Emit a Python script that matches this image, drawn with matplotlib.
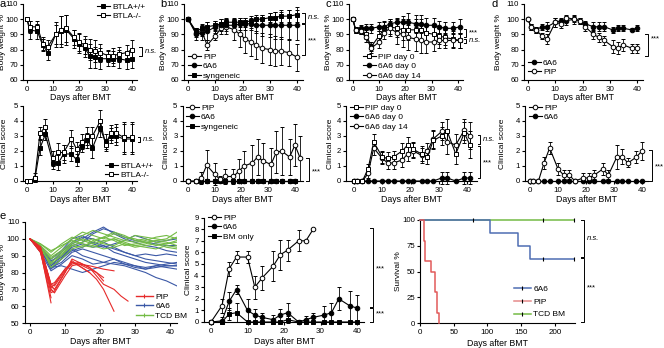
import numpy as np
import matplotlib
matplotlib.use("Agg")
import matplotlib.pyplot as plt
from matplotlib.lines import Line2D
from matplotlib.transforms import blended_transform_factory

plt.rcParams['font.family'] = ['Liberation Sans', 'DejaVu Sans']
plt.rcParams['font.size'] = 6
plt.rcParams['axes.linewidth'] = 0.8
plt.rcParams['xtick.major.width'] = 0.8
plt.rcParams['ytick.major.width'] = 0.8
plt.rcParams['xtick.major.size'] = 2.5
plt.rcParams['ytick.major.size'] = 2.5
plt.rcParams['xtick.major.pad'] = 1.5
plt.rcParams['ytick.major.pad'] = 1.2
plt.rcParams['xtick.labelsize'] = 5.8
plt.rcParams['ytick.labelsize'] = 5.6

W, H = 664, 348
fig = plt.figure(figsize=(W / 100, H / 100), dpi=100)

# ---------------- DATA ----------------
# Panel a
a_days = [0, 1, 4, 6, 8, 11, 13, 15, 18, 20, 22, 24, 26, 28, 31, 33, 35, 38, 40]
a_wt_wt = [100, 93, 92, 83, 78, 90, 92, 93, 87, 84, 81, 76, 75, 74, 74, 74, 74, 73, 74]
a_wt_wt_err = [0, 6, 5, 4, 5, 8, 10, 10, 6, 6, 6, 8, 7, 7, 5, 5, 6, 6, 6]
a_ko_wt = [100, 95, 95, 84, 82, 90, 93, 94, 88, 85, 83, 80, 79, 78, 76, 76, 77, 78, 80]
a_ko_wt_err = [0, 4, 4, 4, 4, 6, 9, 9, 5, 6, 6, 7, 7, 6, 4, 5, 5, 5, 6]
a_cdays = [0, 1, 3, 5, 7, 10, 12, 14, 17, 19, 21, 23, 25, 28, 30, 32, 34, 37, 40]
a_wt_cs = [0, 0, 0.1, 2.2, 3.1, 1.2, 1.2, 1.8, 1.8, 1.4, 2.3, 2.7, 2.2, 3.5, 2.6, 3.0, 3.0, 2.8, 2.8]
a_wt_cs_err = [0, 0, 0.2, 0.5, 0.4, 0.4, 0.5, 0.6, 0.5, 0.4, 0.4, 0.5, 0.7, 0.6, 0.5, 0.5, 0.6, 1.0, 1.0]
a_ko_cs = [0, 0, 0.2, 3.2, 3.6, 1.5, 1.9, 1.9, 2.8, 2.1, 2.6, 3.0, 3.0, 4.0, 2.4, 3.2, 3.2, 2.9, 2.9]
a_ko_cs_err = [0, 0, 0.3, 0.4, 0.5, 0.5, 0.6, 0.5, 0.6, 0.5, 0.5, 0.6, 0.6, 0.7, 0.4, 0.5, 0.6, 1.0, 1.0]

# Panel b
b_days = [0, 3, 5, 7, 10, 12, 14, 17, 19, 21, 23, 25, 27, 30, 32, 34, 37, 40]
b_pip_wt = [100, 91, 92, 83, 89, 94, 95, 93, 90, 87, 85, 83, 81, 80, 79, 79, 78, 75]
b_pip_wt_err = [0, 3, 3, 3, 3, 4, 5, 7, 8, 9, 9, 9, 10, 10, 10, 9, 9, 9]
b_6a6_wt = [100, 90, 91, 92, 95, 96, 96, 96, 97, 97, 97, 96, 96, 96, 96, 96, 96, 96]
b_6a6_wt_err = [0, 4, 5, 6, 4, 4, 4, 4, 4, 4, 4, 5, 7, 8, 9, 9, 10, 10]
b_syn_wt = [100, 92, 94, 95, 96, 97, 98, 98, 98, 98, 99, 100, 100, 101, 101, 102, 102, 103]
b_syn_wt_err = [0, 2, 3, 3, 3, 3, 3, 3, 3, 3, 3, 3, 3, 3, 4, 4, 4, 5]
b_cdays = [0, 3, 5, 7, 10, 12, 14, 17, 19, 21, 24, 26, 28, 31, 33, 35, 38, 40, 42]
b_pip_cs = [0, 0, 0.2, 1.05, 0.45, 0.1, 0.3, 0.3, 0.65, 1.0, 1.2, 1.6, 1.35, 1.1, 1.9, 2.0, 1.6, 2.4, 1.5]
b_pip_cs_err = [0, 0, 0.4, 1.0, 0.75, 0.2, 0.5, 0.5, 0.8, 1.0, 1.2, 1.2, 1.2, 1.1, 1.4, 1.6, 1.2, 1.4, 1.5]
b_cdays0 = [0, 3, 5, 7, 10, 12, 14, 17, 19, 21, 24, 26, 28, 31, 33, 35, 38, 40]
b_6a6_cs = [0] * 18
b_syn_cs = [0] * 18

# Panel c
c_days = [0, 1, 3, 5, 7, 10, 12, 14, 17, 19, 21, 24, 26, 28, 31, 33, 35, 38, 41]
c_pip0_wt = [100, 93, 92, 90, 82, 89, 94, 95, 94, 93, 93, 93, 93, 91, 90, 89, 88, 87, 86]
c_pip0_wt_err = [0, 2, 2, 3, 3, 3, 4, 5, 6, 7, 7, 7, 7, 6, 5, 5, 5, 5, 5]
c_6a6d0_wt = [100, 93, 94, 94, 94, 95, 95, 97, 98, 98, 98, 97, 97, 96, 96, 95, 94, 94, 95]
c_6a6d0_wt_err = [0, 2, 2, 3, 3, 3, 4, 3, 3, 4, 6, 6, 6, 5, 5, 4, 4, 4, 5]
c_6a6d14_wt = [100, 93, 92, 88, 81, 85, 91, 94, 91, 90, 88, 87, 86, 85, 85, 86, 86, 86, 86]
c_6a6d14_wt_err = [0, 2, 2, 3, 3, 4, 4, 5, 7, 8, 8, 8, 8, 7, 6, 5, 5, 5, 5]
c_cdays = [0, 1, 3, 5, 7, 10, 12, 14, 17, 19, 21, 24, 26, 28, 31, 33, 36, 39, 41]
c_pip0_cs = [0, 0, 0, 0.8, 2.6, 1.6, 1.5, 1.6, 2.0, 2.4, 2.1, 1.8, 1.6, 2.7, 3.0, 3.3, 1.8, 3.2, 2.4]
c_pip0_cs_err = [0, 0, 0, 0.3, 0.5, 0.4, 0.4, 0.4, 0.5, 0.5, 0.5, 0.5, 0.5, 0.6, 0.6, 0.8, 0.7, 0.7, 0.9]
c_6a6d0_cs = [0, 0, 0, 0, 0, 0, 0, 0, 0, 0, 0, 0, 0, 0, 0.2, 0.2, 0, 0.2, 0.2]
c_6a6d0_cs_err = [0, 0, 0, 0, 0, 0, 0, 0, 0, 0, 0, 0, 0, 0, 0.4, 0.4, 0, 0.4, 0.4]
c_6a6d14_cs = [0, 0, 0, 0.5, 2.2, 1.5, 1.2, 1.2, 1.4, 1.8, 2.0, 1.7, 2.0, 2.8, 3.3, 2.6, 2.4, 3.4, 3.0]
c_6a6d14_cs_err = [0, 0, 0, 0.3, 0.5, 0.4, 0.4, 0.4, 0.5, 0.5, 0.5, 0.5, 0.5, 0.6, 0.6, 0.8, 0.7, 0.7, 0.9]

# Panel d
d_days = [0, 1, 3, 5, 7, 10, 12, 14, 17, 19, 21, 24, 26, 28, 31, 33, 35, 38, 40]
d_6a6_wt = [100, 95, 93, 95, 95, 98, 99, 99, 100, 99, 97, 95, 95, 95, 93, 94, 94, 93, 94]
d_6a6_wt_err = [0, 2, 2, 2, 3, 3, 2, 3, 2, 2, 2, 3, 3, 3, 2, 2, 2, 1, 2]
d_pip_wt = [100, 95, 93, 89, 87, 98, 97, 101, 100, 99, 95, 90, 88, 86, 82, 81, 83, 81, 81]
d_pip_wt_err = [0, 2, 2, 2, 3, 3, 3, 2, 3, 2, 3, 3, 3, 3, 4, 4, 4, 3, 3]
d_cdays = [0, 1, 3, 5, 7, 10, 12, 14, 16, 19, 21, 23, 26, 28, 31, 33, 35, 38, 40]
d_pip_cs = [0, 0, 0, 1.2, 2.2, 0.8, 0.4, 0.4, 0, 0.2, 0.2, 0.4, 0.8, 0.4, 1.6, 1.6, 1.2, 1.6, 2.0]
d_pip_cs_err = [0, 0, 0, 0.4, 0.4, 0.4, 0.3, 0.3, 0, 0.3, 0.3, 0.3, 0.4, 0.3, 0.8, 0.5, 0.3, 0.4, 0.6]
d_6a6_cs = [0] * 19

# Panel e: individual body weights
e_days = [0, 3, 6, 9, 12, 15, 18, 21, 24, 27, 30, 33, 36, 39, 42]
e_6a6 = [
    [100, 94, 82, 88, 96, 98, 103, 106, 104, 101, 99, 98, 97, 96, 96],
    [100, 93, 84, 90, 97, 100, 104, 107, 103, 100, 98, 96, 95, 93, 92],
    [100, 95, 86, 92, 98, 101, 100, 98, 95, 92, 90, 91, 90, 91, 90],
    [100, 92, 81, 85, 90, 88, 85, 86, 88, 85, 84, 83, 84, 83, 82],
    [100, 94, 83, 86, 92, 94, 92, 90, 88, 86, 84, 82, 84, 85, 86],
    [100, 93, 85, 89, 94, 90, 88, 86, 85, 84, 82, 80, 77, 75, 72],
    [100, 95, 88, 93, 100, 102, 97, 95, 97, 99, 102, 100, 98, 99, 100],
    [100, 94, 83, 84, 82, 80, 82, 84, 86, 85, 83, 82, 83, 84, 84],
    [100, 96, 87, 90, 95, 97, 95, 96, 92, 90, 88, 86, 85, 84, 84],
    [100, 93, 84, 88, 93, 95, 98, 96, 94, 92, 90, 88, 87, 86, 85],
]
e_tcd = [
    [100, 96, 90, 95, 100, 104, 102, 100, 103, 101, 100, 98, 99, 100, 104],
    [100, 95, 88, 92, 97, 100, 98, 101, 104, 102, 99, 100, 98, 97, 98],
    [100, 97, 92, 97, 101, 99, 97, 99, 100, 98, 96, 97, 99, 98, 96],
    [100, 94, 85, 90, 96, 98, 100, 97, 96, 99, 102, 101, 100, 99, 101],
    [100, 96, 83, 88, 94, 96, 95, 98, 100, 97, 95, 96, 97, 95, 94],
    [100, 95, 89, 93, 98, 102, 105, 103, 101, 99, 98, 99, 101, 102, 100],
    [100, 97, 93, 96, 99, 97, 96, 94, 95, 97, 96, 95, 94, 96, 95],
    [100, 94, 86, 91, 96, 95, 99, 101, 99, 96, 97, 98, 96, 97, 99],
]
nan = np.nan
e_pip_days = [0, 3, 6, 7, 10, 12, 14, 17, 19, 21, 24, 26, 28]
e_pip = [
    [100, 93, 62, nan, nan, nan, nan, nan, nan, nan, nan, nan, nan],
    [100, 92, 65, nan, nan, nan, nan, nan, nan, nan, nan, nan, nan],
    [100, 94, 70, 68, nan, nan, nan, nan, nan, nan, nan, nan, nan],
    [100, 95, 72, 70, nan, nan, nan, nan, nan, nan, nan, nan, nan],
    [100, 94, 73, 74, 82, 86, 84, 80, nan, nan, nan, nan, nan],
    [100, 95, 72, 70, 80, 88, 86, 83, 80, 75, nan, nan, nan],
    [100, 93, 70, 68, 78, 84, 85, 82, 80, 77, nan, nan, nan],
    [100, 94, 71, 73, 82, 86, 85, 84, 83, 82, 81, nan, nan],
    [100, 92, 68, 69, 80, 87, 84, 80, 76, 70, 57, nan, nan],
    [100, 95, 73, 72, 81, 85, 86, 83, 78, 73, 70, 66, 63],
]

# Panel e: clinical score
e_pip_cdays = [0, 3, 5, 7, 10, 12, 14, 17, 19, 21, 24, 26, 28]
e_pip_cs = [0, 1.4, 4.6, 5.6, 5.6, 3.0, 3.8, 4.8, 5.8, 6.2, 7.0, 7.0, 8.0]
e_pip_cs_err = [0, 0.6, 0.6, 0.5, 0.5, 1.0, 1.0, 1.3, 1.3, 0.9, 0.9, 0, 0]
e_cdays = [0, 3, 5, 7, 10, 12, 14, 17, 19, 21, 24, 26, 28, 31, 33, 35, 38, 40]
e_6a6_cs = [0, 0.1, 1.8, 2.8, 1.0, 0.6, 0.4, 0.2, 0.6, 0.8, 0, 0.2, 0.4, 0.6, 0.8, 2.0, 1.4, 1.2]
e_6a6_cs_err = [0, 0.3, 0.8, 0.4, 1.0, 0.5, 0.4, 0.4, 0.5, 0.8, 0, 0.3, 0.4, 0.8, 0.8, 1.0, 1.3, 1.1]
e_bm_cs = [0, 0, 0.7, 0.8, 0, 0, 0, 0, 0, 0.2, 0, 0, 0, 0, 0, 0, 0, 0]
e_bm_cs_err = [0, 0, 0.5, 0.8, 0, 0, 0, 0, 0, 0.3, 0, 0, 0, 0, 0, 0, 0, 0]

# Panel e: survival
surv_6a6_t = [0, 104, 145, 163, 228]
surv_6a6 = [100, 87.5, 75, 62.5, 62.5]
surv_6a6_cens = [182, 228]
surv_pip_t = [0, 6, 7, 17, 22, 25, 28]
surv_pip = [100, 80, 60, 50, 30, 10, 0]
surv_tcd_t = [0, 228]
surv_tcd = [100, 100]
surv_tcd_cens = [79, 182, 228]

RED = '#e62a2a'
BLUE = '#3b58a6'
GREEN = '#74bb45'


# ---------------- HELPERS ----------------
def add_ax(left, top, right, bottom):
    ax = fig.add_axes([left / W, 1 - bottom / H, (right - left) / W, (bottom - top) / H])
    for s in ('top', 'right'):
        ax.spines[s].set_visible(False)
    ax._pxw = right - left
    return ax


def series(ax, x, y, e, marker, filled, z=3):
    c = ax.errorbar(x, y, yerr=e, fmt='-' + marker, color='k', mfc='k' if filled else 'w',
                    mec='k', ms=3.3, mew=0.7, lw=0.8, elinewidth=0.6, capsize=1.7,
                    capthick=0.6, zorder=z)
    for art in c.get_children():
        art.set_clip_on(False)


def handle(marker, filled):
    return Line2D([], [], color='k', marker=marker, mfc='k' if filled else 'w', mec='k',
                  ms=3.3, mew=0.7, lw=0.8)


def legend(ax, handles, labels, x_px, y_px, hl=1.5, ls=0.2):
    leg = ax.legend(handles, labels, loc='upper left', bbox_to_anchor=(x_px / W, 1 - y_px / H),
                    bbox_transform=fig.transFigure, frameon=False, fontsize=6, handlelength=hl,
                    handletextpad=0.3, labelspacing=ls, borderpad=0, borderaxespad=0)
    return leg


def bracket(ax, xpx, y0, y1, text, ty=None, italic=False, tick=3):
    tr = blended_transform_factory(ax.transAxes, ax.transData)
    xf = xpx / ax._pxw
    tf = tick / ax._pxw
    ax.plot([xf - tf, xf, xf, xf - tf], [y0, y0, y1, y1], transform=tr, color='k',
            lw=0.7, clip_on=False)
    ax.text(xf + 3 / ax._pxw, (y0 + y1) / 2 if ty is None else ty, text, transform=tr,
            fontsize=5.5, va='center', ha='left', style='italic' if italic else 'normal')


def labels(ax, ylabel, ylab_x, xlab_y):
    ax.set_xlabel('Days after BMT', fontsize=6.3)
    ax.set_ylabel(ylabel, fontsize=6.0)
    ax.yaxis.set_label_coords(ylab_x / W, 0.5,
                              transform=blended_transform_factory(fig.transFigure, ax.transAxes))
    ax.xaxis.set_label_coords(0.5, 1 - xlab_y / H,
                              transform=blended_transform_factory(ax.transAxes, fig.transFigure))
    ax.xaxis.label.set_va('center')
    ax.yaxis.label.set_va('center')


def weight_axes(ax):
    ax.set_ylim(60, 110)
    ax.set_yticks([60, 70, 80, 90, 100, 110])
    ax.set_xticks([0, 10, 20, 30, 40])


def clin_axes(ax):
    ax.set_ylim(0, 5)
    ax.set_yticks([0, 1, 2, 3, 4, 5])
    ax.set_xticks([0, 10, 20, 30, 40])


# ---------------- ROW 1: body weight ----------------
R1T, R1B = 4, 80
ax = add_ax(23, R1T, 137, R1B)
ax.set_xlim(-1.5, 42)
weight_axes(ax)
series(ax, a_days, a_wt_wt, a_wt_wt_err, 's', True)
series(ax, a_days, a_ko_wt, a_ko_wt_err, 's', False)
legend(ax, [handle('s', True), handle('s', False)], ['BTLA+/+', 'BTLA-/-'], 97, 3)
bracket(ax, 119, 82, 75.5, 'n.s.', italic=True)
labels(ax, 'Body weight %', 2.5, 97)

ax = add_ax(184, R1T, 302.5, R1B)
ax.set_xlim(-1.5, 42)
weight_axes(ax)
series(ax, b_days, b_pip_wt, b_pip_wt_err, 'o', False)
series(ax, b_days, b_6a6_wt, b_6a6_wt_err, 'o', True)
series(ax, b_days, b_syn_wt, b_syn_wt_err, 's', True)
legend(ax, [handle('o', False), handle('o', True), handle('s', True)],
       ['PIP', '6A6', 'syngeneic'], 188, 53)
bracket(ax, 121, 104.4, 97.3, 'n.s.', italic=True)
bracket(ax, 121, 96.7, 76.7, '***', ty=86)
labels(ax, 'Body weight %', 163.5, 97)

ax = add_ax(349, R1T, 463, R1B)
ax.set_xlim(-1.5, 42)
weight_axes(ax)
series(ax, c_days, c_pip0_wt, c_pip0_wt_err, 's', False)
series(ax, c_days, c_6a6d0_wt, c_6a6d0_wt_err, 'o', True)
series(ax, c_days, c_6a6d14_wt, c_6a6d14_wt_err, 'o', False)
legend(ax, [handle('s', False), handle('o', True), handle('o', False)],
       ['PIP day 0', '6A6 day 0', '6A6 day 14'], 363, 53)
bracket(ax, 117, 93.8, 88.2, '***', tick=2.5)
bracket(ax, 117, 87.1, 84.4, 'n.s.', italic=True, tick=2.5)
labels(ax, 'Body weight %', 328.5, 97)

ax = add_ax(524, R1T, 642.5, R1B)
ax.set_xlim(-1.5, 42)
weight_axes(ax)
series(ax, d_days, d_6a6_wt, d_6a6_wt_err, 'o', True)
series(ax, d_days, d_pip_wt, d_pip_wt_err, 'o', False)
legend(ax, [handle('o', True), handle('o', False)], ['6A6', 'PIP'], 528, 59)
bracket(ax, 124, 90, 75.5, '***', ty=87)
labels(ax, 'Body weight %', 499, 97)

# ---------------- ROW 2: clinical score ----------------
R2T, R2B = 106, 181
ax = add_ax(23, R2T, 137, R2B)
ax.set_xlim(-1.5, 42)
clin_axes(ax)
series(ax, a_cdays, a_wt_cs, a_wt_cs_err, 's', True)
series(ax, a_cdays, a_ko_cs, a_ko_cs_err, 's', False)
legend(ax, [handle('s', True), handle('s', False)], ['BTLA+/+', 'BTLA-/-'], 105, 162)
bracket(ax, 117, 2.95, 2.58, 'n.s.', italic=True, tick=2.5)
labels(ax, 'Clinical score', 5, 199)

ax = add_ax(182.6, R2T, 303, R2B)
ax.set_xlim(-2, 43)
clin_axes(ax)
series(ax, b_cdays0, b_syn_cs, [0] * 18, 's', True)
series(ax, b_cdays0, b_6a6_cs, [0] * 18, 'o', True)
series(ax, b_cdays, b_pip_cs, b_pip_cs_err, 'o', False)
legend(ax, [handle('o', False), handle('o', True), handle('s', True)],
       ['PIP', '6A6', 'syngeneic'], 186, 104)
bracket(ax, 126, 1.55, 0.0, '***', ty=0.6)
labels(ax, 'Clinical score', 167, 199)

ax = add_ax(346, R2T, 477, R2B)
ax.set_xlim(-2.8, 43.5)
clin_axes(ax)
series(ax, c_cdays, c_6a6d0_cs, c_6a6d0_cs_err, 'o', True)
series(ax, c_cdays, c_6a6d14_cs, c_6a6d14_cs_err, 'o', False)
series(ax, c_cdays, c_pip0_cs, c_pip0_cs_err, 's', False)
legend(ax, [handle('s', False), handle('o', True), handle('o', False)],
       ['PIP day 0', '6A6 day 0', '6A6 day 14'], 350, 104)
bracket(ax, 134, 3.07, 2.44, 'n.s.', italic=True, tick=2.5)
bracket(ax, 134, 2.33, 0.18, '***', ty=1.2, tick=2.5)
labels(ax, 'Clinical score', 330, 199)

ax = add_ax(525, R2T, 647.6, R2B)
ax.set_xlim(-1.8, 42)
clin_axes(ax)
series(ax, d_cdays, d_6a6_cs, [0] * 19, 'o', True)
series(ax, d_cdays, d_pip_cs, d_pip_cs_err, 'o', False)
legend(ax, [handle('o', False), handle('o', True)], ['PIP', '6A6'], 529, 104)
bracket(ax, 127, 2.07, 0.0, '***', ty=0.95)
labels(ax, 'Clinical score', 503, 199)

# ---------------- ROW 3 ----------------
ax = add_ax(24.75, 222, 177, 323)
ax.set_xlim(-1.5, 42)
ax.set_ylim(50, 110)
ax.set_yticks([50, 60, 70, 80, 90, 100, 110])
ax.set_xticks([0, 10, 20, 30, 40])
for m in e_6a6:
    ax.plot(e_days, m, color=BLUE, lw=0.8)
for m in e_tcd:
    ax.plot(e_days, m, color=GREEN, lw=0.8)
for m in e_pip:
    ax.plot(e_pip_days, m, color=RED, lw=0.8)
hs = [Line2D([], [], color=c, lw=1.0, marker='|', ms=3.5, mew=0.8) for c in (RED, BLUE, GREEN)]
legend(ax, hs, ['PIP', '6A6', 'TCD BM'], 136, 293, hl=2.0)
labels(ax, 'Body weight %', 3, 341)

ax = add_ax(203.7, 217.6, 364.3, 322)
ax.set_xlim(-2, 42)
ax.set_ylim(0, 9)
ax.set_yticks(range(10))
ax.set_xticks([0, 10, 20, 30, 40])
series(ax, e_cdays, e_bm_cs, e_bm_cs_err, 's', True)
series(ax, e_cdays, e_6a6_cs, e_6a6_cs_err, 'o', True)
series(ax, e_pip_cdays, e_pip_cs, e_pip_cs_err, 'o', False)
legend(ax, [handle('o', False), handle('o', True), handle('s', True)],
       ['PIP', '6A6', 'BM only'], 208, 214)
bracket(ax, 169, 8.1, 1.3, '***', ty=4.6)
bracket(ax, 169, 1.18, 0.0, '***', ty=0.7)
labels(ax, 'Clinical score', 188, 342)

ax = add_ax(420, 220, 575, 323)
ax.set_xlim(0, 230)
ax.set_ylim(0, 100)
ax.set_yticks([0, 25, 50, 75, 100])
ax.set_xticks([0, 50, 100, 150, 200])
ax.step(surv_tcd_t, surv_tcd, where='post', color=GREEN, lw=1.1, clip_on=False, zorder=2)
ax.plot(surv_tcd_cens, [100] * len(surv_tcd_cens), ls='none', marker='|', color='k',
        ms=3, mew=0.8, clip_on=False, zorder=4)
ax.step(surv_6a6_t, surv_6a6, where='post', color='#4e6db3', lw=1.1, clip_on=False, zorder=3)
ax.plot(surv_6a6_cens, [62.5] * len(surv_6a6_cens), ls='none', marker='|', color='k',
        ms=3, mew=0.8, clip_on=False, zorder=4)
ax.step(surv_pip_t, surv_pip, where='post', color='#e25a5a', lw=1.1, clip_on=False, zorder=3)
hs = [Line2D([], [], color=c, lw=1.1, marker='|', ms=3, mew=0.8, mec='k')
      for c in ('#4e6db3', '#e58a8a', GREEN)]
legend(ax, hs, ['6A6', 'PIP', 'TCD BM'], 514, 285, hl=2.0, ls=0.6)
bracket(ax, 164, 100, 64, 'n.s.', italic=True, ty=82)
bracket(ax, 164, 63, 0.5, '***', ty=34)
labels(ax, 'Survival %', 398, 343)

# panel letters
for t, x, y in [('a', 0, 4), ('b', 160, 4), ('c', 325, 4), ('d', 491, 4), ('e', 0, 216)]:
    fig.text(x / W, 1 - y / H, t, fontsize=8, va='center', ha='left')

fig.savefig('out.png', dpi=100)
